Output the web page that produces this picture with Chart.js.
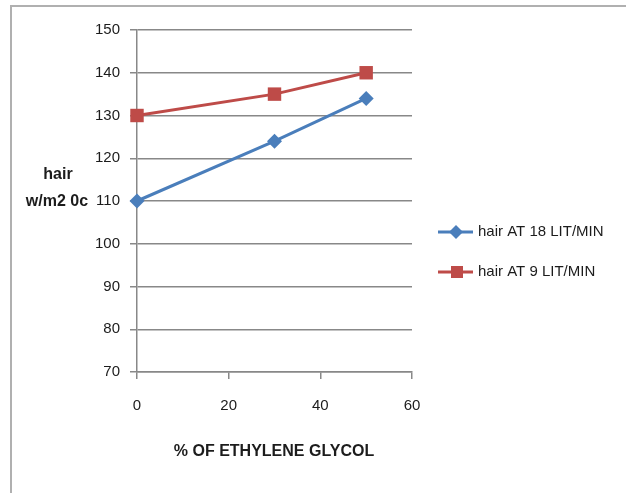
<!DOCTYPE html>
<html>
<head>
<meta charset="utf-8">
<script src="https://cdn.jsdelivr.net/npm/chart.js@4/dist/chart.umd.min.js"></script>
<style>
  html, body { margin: 0; padding: 0; background: #fff; }
  #wrap { width: 626px; height: 493px; position: relative; }
</style>
</head>
<body>
<div id="wrap"><canvas id="chart_1" width="626" height="493"></canvas></div>
<script>
const glycol = [0, 30, 50];
const hair18 = [110, 124, 134];
const hair9 = [130, 135, 140];
const seriesNames = ['hair AT 18 LIT/MIN', 'hair AT 9 LIT/MIN'];
const yTitle = ['hair', 'w/m2 0c'];
const xTitle = '% OF ETHYLENE GLYCOL';

const FONT = "'Liberation Sans', Arial, sans-serif";
const INK = '#1c1c1c';
const BLUE = '#4a7ebb';
const RED = '#be4b48';

// outer frame, axis titles and the line+marker legend
const decor = {
    id: 'decor',
    beforeDraw(chart) {
        const ctx = chart.ctx;
        ctx.save();
        ctx.strokeStyle = '#b0b0b0';
        ctx.lineWidth = 2;
        ctx.beginPath();
        ctx.moveTo(11, 493);
        ctx.lineTo(11, 6);
        ctx.lineTo(626, 6);
        ctx.stroke();
        ctx.restore();
    },
    afterDraw(chart) {
        const ctx = chart.ctx;
        ctx.save();
        ctx.fillStyle = INK;
        ctx.textAlign = 'center';
        ctx.textBaseline = 'middle';
        ctx.font = 'bold 16px ' + FONT;
        ctx.fillText(yTitle[0], 58, 175);
        ctx.fillText(yTitle[1], 57, 202);
        ctx.fillText(xTitle, 274, 452);

        const rows = [232, 272];
        chart.data.datasets.forEach((ds, i) => {
            const y = rows[i];
            ctx.strokeStyle = ds.borderColor;
            ctx.lineWidth = 3;
            ctx.beginPath();
            ctx.moveTo(438, y);
            ctx.lineTo(473, y);
            ctx.stroke();
            ctx.fillStyle = ds.backgroundColor;
            ctx.beginPath();
            if (ds.pointStyle === 'rectRot') {
                ctx.moveTo(456, y - 7);
                ctx.lineTo(463, y);
                ctx.lineTo(456, y + 7);
                ctx.lineTo(449, y);
            } else {
                ctx.rect(451, y - 6, 12, 12);
            }
            ctx.fill();
            ctx.fillStyle = INK;
            ctx.textAlign = 'left';
            ctx.font = '15px ' + FONT;
            ctx.fillText(ds.label, 478, y);
        });
        ctx.restore();
    }
};

new Chart(document.getElementById('chart_1'), {
    type: 'line',
    data: {
        datasets: [
            {
                label: seriesNames[0],
                data: glycol.map((x, i) => ({ x, y: hair18[i] })),
                borderColor: BLUE,
                backgroundColor: BLUE,
                borderWidth: 3,
                pointStyle: 'rectRot',
                pointRadius: 7.5,
                pointBorderWidth: 0,
                tension: 0,
                clip: false
            },
            {
                label: seriesNames[1],
                data: glycol.map((x, i) => ({ x, y: hair9[i] })),
                borderColor: RED,
                backgroundColor: RED,
                borderWidth: 3,
                pointStyle: 'rect',
                pointRadius: 9.5,
                pointBorderWidth: 0,
                tension: 0,
                clip: false
            }
        ]
    },
    options: {
        responsive: false,
        animation: false,
        layout: { padding: { left: 0, top: 30, right: 214, bottom: 0 } },
        plugins: {
            legend: { display: false },
            tooltip: { enabled: false }
        },
        scales: {
            x: {
                type: 'linear',
                min: 0,
                max: 60,
                afterFit: s => { s.height = 121; },
                border: { color: '#888', width: 1.5 },
                grid: { drawOnChartArea: false, tickLength: 7, color: '#888', lineWidth: 1.5 },
                ticks: { stepSize: 20, padding: 18, color: INK, font: { family: FONT, size: 15 } }
            },
            y: {
                min: 70,
                max: 150,
                afterFit: s => { s.width = 137; },
                border: { color: '#888', width: 1.5 },
                grid: { tickLength: 7, color: '#888', lineWidth: 1.5 },
                ticks: { stepSize: 10, padding: 10, color: INK, font: { family: FONT, size: 15 } }
            }
        }
    },
    plugins: [decor]
});
</script>
</body>
</html>
